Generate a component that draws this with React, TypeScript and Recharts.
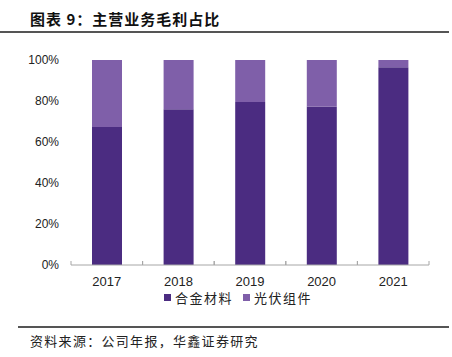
import { Bar, BarChart, XAxis, YAxis } from "recharts";

const years = ["2017", "2018", "2019", "2020", "2021"];
const alloy = [67.3, 76, 79.5, 77.2, 96.5];
const pv = [32.7, 24, 20.5, 22.8, 3.5];
const yTicks = [0, 20, 40, 60, 80, 100];

const COLOR = {
  alloy: "#4b2c81",
  pv: "#7f5fa9",
  axis: "#a6a6a6",
  text: "#222",
  rule: "#555",
};

const data = years.map((y, i) => ({ year: y, alloy: alloy[i], pv: pv[i] }));

const cjk = '"Noto Sans CJK SC", sans-serif';
const latin = '"Liberation Sans", Arial, sans-serif';

function YearTick(props: any) {
  const { x, y, payload } = props;
  const half = 35.8;
  const base = 265;
  return (
    <g>
      <line x1={x - half} x2={x - half} y1={base} y2={base - 4} stroke={COLOR.axis} />
      <line x1={x + half} x2={x + half} y1={base} y2={base - 4} stroke={COLOR.axis} />
      <text x={x} y={y + 13} textAnchor="middle" fontSize={13} fill={COLOR.text} fontFamily={latin}>
        {payload.value}
      </text>
    </g>
  );
}

function LegendRow() {
  const items = [
    { name: "合金材料", color: COLOR.alloy },
    { name: "光伏组件", color: COLOR.pv },
  ];
  return (
    <div style={{ position: "absolute", left: 164, top: 288, display: "flex", gap: 10, fontFamily: cjk, fontSize: 13, letterSpacing: 1.5, color: COLOR.text }}>
      {items.map((it) => (
        <span key={it.name} style={{ display: "flex", alignItems: "center", gap: 4 }}>
          <span style={{ width: 7, height: 7, background: it.color, display: "inline-block" }} />
          {it.name}
        </span>
      ))}
    </div>
  );
}

export default function App() {
  return (
    <div style={{ position: "relative", width: 452, height: 357, background: "#fff" }}>
      <style>{`body{margin:0}`}</style>
      <div style={{ position: "absolute", left: 30, top: 8, fontFamily: cjk, fontWeight: 700, fontSize: 15, color: "#111", letterSpacing: 1 }}>
        图表 9：主营业务毛利占比
      </div>
      <div style={{ position: "absolute", left: 0, top: 31, width: 449, height: 2, background: COLOR.rule }} />
      <BarChart
        width={452}
        height={357}
        data={data}
        margin={{ top: 60, right: 23, left: 0, bottom: 62 }}
        barCategoryGap={21}
      >
        <YAxis
          domain={[0, 100]}
          ticks={yTicks}
          tickFormatter={(v) => `${v}%`}
          width={71}
          axisLine={false}
          tickLine={false}
          tickSize={6}
          tickMargin={6}
          tick={{ fontSize: 12, fill: COLOR.text, fontFamily: latin }}
        />
        <XAxis
          dataKey="year"
          height={30}
          axisLine={{ stroke: COLOR.axis }}
          tickLine={false}
          tick={<YearTick />}
        />
        <Bar dataKey="alloy" stackId="a" fill={COLOR.alloy} isAnimationActive={false} />
        <Bar dataKey="pv" stackId="a" fill={COLOR.pv} isAnimationActive={false} />
      </BarChart>
      <LegendRow />
      <div style={{ position: "absolute", left: 18, top: 326, width: 431, height: 2, background: COLOR.rule }} />
      <div style={{ position: "absolute", left: 30, top: 331, fontFamily: cjk, fontSize: 13, letterSpacing: 1.3, color: "#222" }}>
        资料来源：公司年报，华鑫证券研究
      </div>
    </div>
  );
}
